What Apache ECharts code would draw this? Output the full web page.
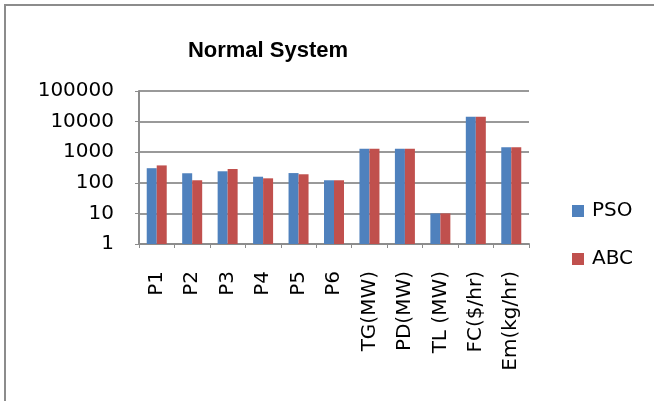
<!DOCTYPE html>
<html>
<head>
<meta charset="utf-8">
<script src="https://cdn.jsdelivr.net/npm/echarts@6/dist/echarts.min.js"></script>
<style>
  html, body { margin: 0; padding: 0; background: #fff; }
  #chart { width: 654px; height: 401px; }
</style>
</head>
<body>
<div id="chart"></div>
<script>
// Quantities compared for the normal operating case
const categories = ['P1', 'P2', 'P3', 'P4', 'P5', 'P6', 'TG(MW)', 'PD(MW)', 'TL (MW)', 'FC($/hr)', 'Em(kg/hr)'];
const psoValues = [300, 205, 238, 158, 208, 121, 1300, 1300, 10, 14500, 1450];
const abcValues = [370, 121, 282, 140, 190, 121, 1300, 1300, 10, 14500, 1450];
const yTicks = [1, 10, 100, 1000, 10000, 100000];

const labelFont = 'DejaVu Sans';
const chart = echarts.init(document.getElementById('chart'), null, { renderer: 'canvas' });

chart.setOption({
  animation: false,
  backgroundColor: '#ffffff',
  title: {
    text: 'Normal System',
    left: 263,
    top: 35,
    textAlign: 'center',
    textStyle: { fontFamily: 'Liberation Sans', fontWeight: 'bold', fontSize: 22, color: '#000' }
  },
  graphic: [{
    type: 'rect',
    shape: { x: 5, y: 5, width: 720, height: 460 },
    style: { fill: 'none', stroke: '#8c8c8c', lineWidth: 2 },
    silent: true
  }],
  legend: {
    orient: 'vertical',
    left: 567,
    top: 196,
    itemWidth: 12,
    itemHeight: 12,
    itemGap: 28,
    icon: 'rect',
    textStyle: { fontFamily: labelFont, fontSize: 20, color: '#000', padding: [0, 0, 0, 3] },
    data: ['PSO', 'ABC']
  },
  grid: { left: 139, top: 91, width: 390, height: 153, containLabel: false },
  xAxis: {
    type: 'category',
    data: categories,
    axisLine: { lineStyle: { color: '#8c8c8c', width: 2 } },
    axisTick: { show: true, length: 4, alignWithLabel: false, lineStyle: { color: '#8c8c8c' } },
    axisLabel: {
      rotate: 90,
      margin: 27,
      interval: 0,
      fontFamily: labelFont,
      fontSize: 20,
      color: '#000',
      padding: [6, 0, 0, 0]
    }
  },
  yAxis: {
    type: 'log',
    logBase: 10,
    min: yTicks[0],
    max: yTicks[yTicks.length - 1],
    axisLine: { show: true, lineStyle: { color: '#8c8c8c', width: 2 } },
    axisTick: { show: true, length: 4, inside: false, lineStyle: { color: '#8c8c8c' } },
    splitLine: { lineStyle: { color: '#999999', width: 2 } },
    axisLabel: {
      margin: 25,
      fontFamily: labelFont,
      fontSize: 20,
      color: '#000',
      formatter: function (v) { return String(Math.round(v)); }
    }
  },
  series: [
    {
      name: 'PSO',
      type: 'bar',
      data: psoValues,
      barWidth: 10,
      barGap: '0%',
      itemStyle: { color: '#4F81BD' }
    },
    {
      name: 'ABC',
      type: 'bar',
      data: abcValues,
      barWidth: 10,
      barGap: '0%',
      itemStyle: { color: '#C0504D' }
    }
  ]
});
</script>
</body>
</html>
